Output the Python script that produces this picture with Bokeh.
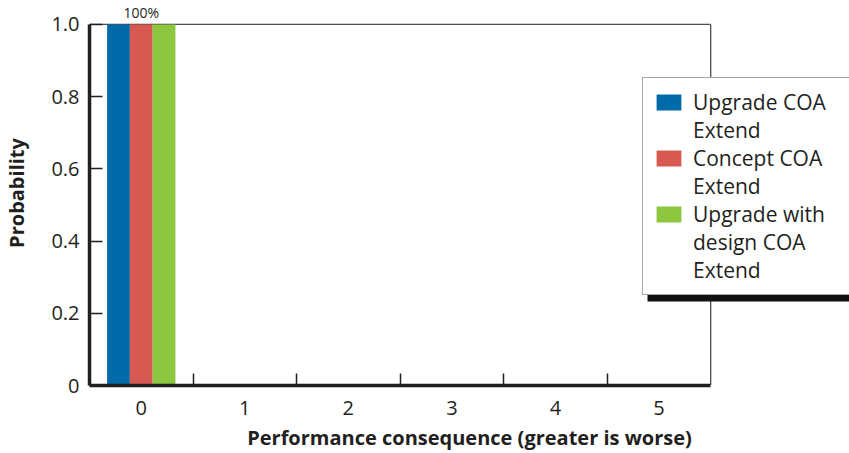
from bokeh.plotting import figure
from bokeh.models import (ColumnDataSource, Range1d, FixedTicker, Legend, LegendItem,
                          LabelSet, BoxAnnotation)
from bokeh.core.properties import value
from bokeh.embed import file_html
from bokeh.resources import INLINE
import numpy as np

# ---- data ----
categories = [0, 1, 2, 3, 4, 5]
upgrade_coa_extend = [1.0, 0.0, 0.0, 0.0, 0.0, 0.0]
concept_coa_extend = [1.0, 0.0, 0.0, 0.0, 0.0, 0.0]
upgrade_design_coa_extend = [1.0, 0.0, 0.0, 0.0, 0.0, 0.0]
series_names = [["Upgrade COA", "Extend"],
                ["Concept COA", "Extend"],
                ["Upgrade with", "design COA", "Extend"]]
bar_labels = ["100%", "", "", "", "", ""]
y_ticks = [0, 0.2, 0.4, 0.6, 0.8, 1.0]
x_title = "Performance consequence (greater is worse)"
y_title = "Probability"

colors = ["#006AAB", "#D65A52", "#8DC63F"]
FONT = "Open Sans"
TXT = "#231F20"
BORDER = "#4D4D4D"

# ---- layout (pixels) ----
W, H = 849, 453
left_px, plot_right_px = 88, 710       # where x = -0.5 and x = 5.5 fall
top_px, bottom_px = 24, 386            # where y = 1.0 and y = 0 fall
x_lo, x_hi = -0.5, 5.5
y_lo, y_hi = 0.0, 1.0
ppx = (plot_right_px - left_px) / (x_hi - x_lo)
ppy = (bottom_px - top_px) / (y_hi - y_lo)
x_range_end = x_hi + (W - plot_right_px) / ppx
y_range_end = y_hi + top_px / ppy

p = figure(width=W, height=H, output_backend="svg", toolbar_location=None,
           x_range=Range1d(x_lo, x_range_end), y_range=Range1d(y_lo, y_range_end),
           min_border_left=left_px, min_border_right=0, min_border_top=0,
           min_border_bottom=H - bottom_px)
p.xgrid.visible = False
p.ygrid.visible = False
p.outline_line_color = None
p.background_fill_color = "white"
p.border_fill_color = "white"

# top and right borders of the plotting area
p.segment(x0=[x_lo, x_hi], y0=[y_hi, y_lo], x1=[x_hi, x_hi], y1=[y_hi, y_hi],
          line_color=BORDER, line_width=1.3)

cats = np.array(categories, dtype=float)
width = 0.22
offsets = [-0.22, 0.0, 0.22]
series = [upgrade_coa_extend, concept_coa_extend, upgrade_design_coa_extend]
renderers = []
for vals, off, col in zip(series, offsets, colors):
    src = ColumnDataSource(dict(x=cats + off, top=vals))
    r = p.vbar(x="x", top="top", width=width, source=src, fill_color=col, line_color=None)
    renderers.append(r)

# value labels
lab_src = ColumnDataSource(dict(x=cats, y=[max(a, b, c) for a, b, c in zip(*series)], text=bar_labels))
labels = LabelSet(x="x", y="y", text="text", source=lab_src, y_offset=6,
                  text_align="center", text_baseline="alphabetic",
                  text_font=value(FONT), text_font_size=value("14px"), text_color=TXT)
p.add_layout(labels)

# axes
xa = p.xaxis[0]
xa.bounds = (x_lo, x_hi)
xa.ticker = FixedTicker(ticks=categories, minor_ticks=[c + 0.5 for c in categories[:-1]])
xa.axis_line_width = 3.5
xa.axis_line_color = TXT
xa.major_tick_in = 0
xa.major_tick_out = 0
xa.minor_tick_in = 12
xa.minor_tick_out = 0
xa.minor_tick_line_color = TXT
xa.minor_tick_line_width = 1.5
xa.major_label_standoff = 15
xa.major_label_text_font = FONT
xa.major_label_text_font_size = "20px"
xa.major_label_text_color = TXT
xa.axis_label = x_title
xa.axis_label_text_font = FONT
xa.axis_label_text_font_style = "bold"
xa.axis_label_text_font_size = "20px"
xa.axis_label_text_color = TXT
xa.axis_label_standoff = 6

ya = p.yaxis[0]
ya.bounds = (y_lo, y_hi)
ya.ticker = FixedTicker(ticks=y_ticks, minor_ticks=[])
ya.major_label_overrides = {0: "0", 0.2: "0.2", 0.4: "0.4", 0.6: "0.6", 0.8: "0.8", 1.0: "1.0"}
ya.axis_line_width = 3.5
ya.axis_line_color = TXT
ya.major_tick_in = 13
ya.major_tick_out = 0
ya.major_tick_line_color = TXT
ya.major_tick_line_width = 1.5
ya.minor_tick_in = 0
ya.minor_tick_out = 0
ya.major_label_standoff = 10
ya.major_label_text_font = FONT
ya.major_label_text_font_size = "20px"
ya.major_label_text_color = TXT
ya.axis_label = y_title
ya.axis_label_text_font = FONT
ya.axis_label_text_font_style = "bold"
ya.axis_label_text_font_size = "20px"
ya.axis_label_text_color = TXT
ya.axis_label_standoff = 18

# legend: one item per text line so the swatch sits beside the first line
blank = p.rect(x=[], y=[], width=[], height=[], fill_color=None, line_color=None)
items = []
for lines, r in zip(series_names, renderers):
    items.append(LegendItem(label=lines[0], renderers=[r]))
    for extra in lines[1:]:
        items.append(LegendItem(label=extra, renderers=[blank]))

leg_x, leg_y = 553, 90
leg_w, leg_h = 206, 220
shadow = BoxAnnotation(left=leg_x + 5, right=leg_x + leg_w + 5,
                       bottom=leg_y - 6, top=leg_y + leg_h - 6,
                       left_units="screen", right_units="screen",
                       top_units="screen", bottom_units="screen",
                       fill_color="#111111", fill_alpha=1.0, line_color=None)
p.add_layout(shadow)

legend = Legend(items=items, location=(leg_x, leg_y), orientation="vertical",
                border_line_color=BORDER, border_line_width=1.3,
                background_fill_color="white", background_fill_alpha=1.0,
                padding=10, spacing=0, margin=0,
                glyph_width=31, glyph_height=20, label_standoff=9, label_width=146,
                label_text_font=FONT, label_text_font_size="21px",
                label_text_color=TXT, label_text_line_height=1.2)
p.add_layout(legend, "center")

open("out.html", "w").write(file_html(p, INLINE))
